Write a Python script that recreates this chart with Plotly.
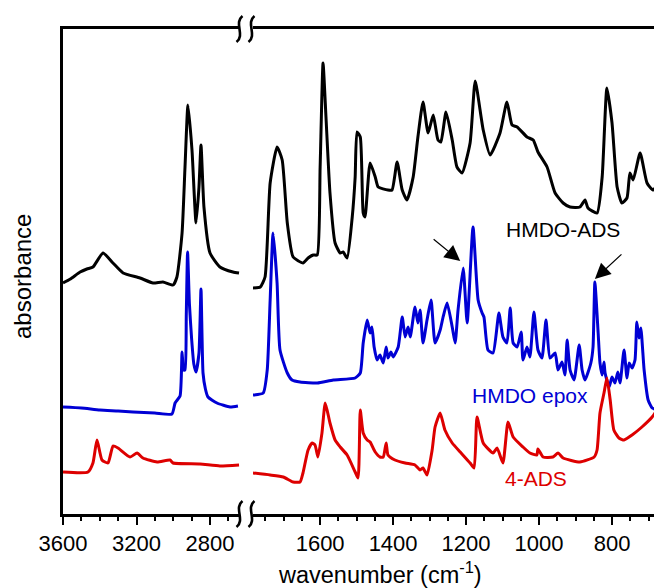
import plotly.graph_objects as go

# ---------------- data ----------------
# HMDO-ADS (black)
ads_wn_hi = [3600, 3560, 3507, 3470, 3437, 3382, 3328, 3273, 3181, 3110, 3056, 3001, 2980, 2952, 2936,
             2920, 2898, 2876, 2860, 2849, 2833, 2800, 2746, 2675, 2642]
ads_ab_hi = [2.31, 2.35, 2.42, 2.45, 2.47, 2.61, 2.51, 2.41, 2.36, 2.31, 2.32, 2.29, 2.37, 2.81, 3.47,
             4.09, 3.64, 2.91, 3.27, 3.69, 3.07, 2.61, 2.47, 2.42, 2.41]
ads_wn_lo = [1784, 1764, 1751, 1737, 1718, 1704, 1690, 1674, 1647, 1633, 1619, 1608, 1600, 1592, 1584,
             1573, 1559, 1545, 1537, 1526, 1512, 1504, 1499, 1490, 1482, 1477, 1463, 1449, 1441, 1414,
             1403, 1389, 1375, 1362, 1345, 1332, 1318, 1304, 1290, 1277, 1269, 1255, 1238, 1225, 1211,
             1189, 1175, 1153, 1134, 1107, 1088, 1074, 1060, 1033, 1016, 1003, 978, 956, 934, 915,
             888, 874, 866, 841, 827, 814, 800, 786, 773, 759, 751, 742, 723, 704, 688, 671, 663]
ads_ab_lo = [2.26, 2.27, 2.37, 3.31, 3.67, 3.54, 2.91, 2.57, 2.51, 2.56, 2.59, 2.59, 3.47, 4.51, 3.97,
             3.21, 2.71, 2.61, 2.62, 2.56, 2.97, 3.37, 3.82, 3.77, 3.01, 2.97, 3.51, 3.37, 3.27, 3.24,
             3.24, 3.52, 3.24, 3.14, 3.37, 3.77, 4.12, 3.81, 3.99, 3.74, 3.72, 4.02, 3.74, 3.47, 3.41,
             3.71, 4.33, 3.84, 3.59, 3.81, 4.12, 3.89, 3.87, 3.77, 3.74, 3.62, 3.47, 3.21, 3.11, 3.07,
             3.07, 3.14, 3.06, 3.01, 3.37, 4.26, 3.91, 3.27, 3.11, 3.16, 3.41, 3.34, 3.61, 3.31, 3.24,
             3.31, 3.37]

# HMDO epox (blue)
epox_wn_hi = [3600, 3500, 3399, 3300, 3219, 3100, 3007, 2990, 2963, 2952, 2944, 2936, 2929, 2922, 2912,
              2900, 2888, 2876, 2860, 2849, 2838, 2825, 2811, 2762, 2691, 2648]
epox_ab_hi = [1.07, 1.06, 1.04, 1.03, 1.02, 1.01, 1.00, 1.11, 1.18, 1.62, 1.44, 1.44, 2.00, 2.62, 2.10,
              1.75, 1.50, 1.42, 1.61, 2.25, 1.41, 1.25, 1.17, 1.11, 1.07, 1.08]
epox_wn_lo = [1784, 1756, 1745, 1737, 1729, 1718, 1710, 1690, 1677, 1655, 1608, 1564, 1504, 1490, 1482,
              1471, 1463, 1458, 1452, 1444, 1436, 1427, 1419, 1414, 1406, 1400, 1386, 1375, 1367, 1359,
              1353, 1340, 1332, 1326, 1318, 1307, 1296, 1285, 1271, 1263, 1252, 1238, 1230, 1222, 1208,
              1197, 1181, 1167, 1156, 1151, 1140, 1126, 1110, 1099, 1088, 1079, 1071, 1060, 1049, 1044,
              1033, 1025, 1014, 1003, 992, 981, 970, 956, 948, 937, 929, 923, 915, 904, 890,
              882, 874, 858, 852, 847, 838, 833, 827, 822, 819, 808, 800, 792, 784, 778,
              767, 759, 753, 745, 737, 732, 726, 721, 712, 701, 690, 677, 671, 663]
epox_ab_lo = [1.19, 1.21, 1.44, 2.14, 2.81, 2.31, 1.64, 1.41, 1.34, 1.32, 1.31, 1.34, 1.36, 1.41, 1.71,
              1.94, 1.81, 1.87, 1.67, 1.54, 1.59, 1.51, 1.67, 1.56, 1.62, 1.57, 1.67, 1.97, 1.77, 1.87,
              1.77, 2.07, 1.91, 2.04, 1.71, 1.94, 2.14, 1.71, 1.84, 1.97, 2.11, 1.87, 1.71, 2.04, 2.46,
              1.91, 2.87, 2.14, 2.01, 1.97, 1.64, 1.61, 2.01, 1.77, 1.71, 2.06, 1.71, 1.67, 1.82, 1.54,
              1.67, 1.57, 2.02, 1.64, 1.56, 1.94, 1.56, 1.61, 1.44, 1.52, 1.39, 1.74, 1.44, 1.34, 1.69,
              1.44, 1.34, 1.51, 1.67, 2.32, 1.81, 1.51, 1.39, 1.52, 1.41, 1.27, 1.37, 1.31, 1.42, 1.31,
              1.64, 1.36, 1.51, 1.46, 1.54, 1.92, 1.76, 1.86, 1.44, 1.14, 1.06, 1.04, 0.99, 1.04]

# 4-ADS (red)
four_wn_hi = [3600, 3464, 3437, 3415, 3388, 3355, 3328, 3301, 3235, 3197, 3165, 3088, 3018, 3001, 2854,
              2746, 2642]
four_ab_hi = [0.42, 0.42, 0.51, 0.74, 0.54, 0.51, 0.68, 0.66, 0.57, 0.61, 0.56, 0.52, 0.54, 0.51, 0.50,
              0.48, 0.49]
four_wn_lo = [1784, 1737, 1701, 1674, 1655, 1647, 1633, 1622, 1614, 1606, 1595, 1586, 1573, 1559, 1545,
              1526, 1504, 1496, 1490, 1482, 1471, 1463, 1449, 1436, 1427, 1419, 1414, 1395, 1367, 1340,
              1326, 1318, 1307, 1293, 1285, 1271, 1258, 1238, 1216, 1189, 1178, 1170, 1153, 1126, 1115,
              1099, 1085, 1071, 1044, 1025, 1006, 1003, 989, 962, 948, 934, 888, 849, 841, 833,
              822, 814, 805, 795, 781, 767, 745, 718, 690, 668, 663]
four_ab_lo = [0.41, 0.39, 0.37, 0.32, 0.32, 0.41, 0.64, 0.71, 0.69, 0.57, 0.81, 1.11, 0.91, 0.74, 0.67,
              0.59, 0.42, 0.36, 1.04, 0.81, 0.74, 0.72, 0.62, 0.57, 0.57, 0.71, 0.59, 0.54, 0.51, 0.49,
              0.44, 0.46, 0.39, 0.64, 0.87, 1.01, 0.84, 0.71, 0.62, 0.51, 0.46, 0.97, 0.71, 0.61, 0.66,
              0.51, 0.92, 0.77, 0.67, 0.61, 0.59, 0.65, 0.57, 0.57, 0.61, 0.56, 0.52, 0.57, 0.64, 1.01,
              1.21, 1.36, 1.14, 0.84, 0.76, 0.74, 0.79, 0.87, 0.97, 1.09, 1.11]

series = [
    ("HMDO-ADS", "#000000", ads_wn_hi, ads_ab_hi, ads_wn_lo, ads_ab_lo),
    ("HMDO epox", "#0000d4", epox_wn_hi, epox_ab_hi, epox_wn_lo, epox_ab_lo),
    ("4-ADS", "#dd0000", four_wn_hi, four_ab_hi, four_wn_lo, four_ab_lo),
]

# ---------------- figure ----------------
OFF = 8                       # page body margin in the browser
W, H = 662 - OFF, 588 - OFF
ML, MT, MB = 63 - OFF, 29 - OFF, 588 - 514
MR = 0
PW, PH = W - ML - MR, H - MT - MB


def px(x):  # window pixel x -> paper
    return (x - OFF - ML) / PW


def py(y):  # window pixel y -> paper
    return (MT + PH - (y - OFF)) / PH


FONT = "Arial, Liberation Sans, sans-serif"

fig = go.Figure()
for name, col, whi, ahi, wlo, alo in series:
    assert len(whi) == len(ahi) and len(wlo) == len(alo), name
    fig.add_trace(go.Scatter(x=whi, y=ahi, mode="lines",
                             line=dict(color=col, width=3, shape="spline", smoothing=0.5),
                             xaxis="x", yaxis="y", showlegend=False, name=name))
    fig.add_trace(go.Scatter(x=wlo, y=alo, mode="lines",
                             line=dict(color=col, width=3, shape="spline", smoothing=0.5),
                             xaxis="x2", yaxis="y", showlegend=False, name=name))

axis_common = dict(showline=True, linecolor="black", linewidth=3, mirror=True,
                   ticks="outside", ticklen=8, tickwidth=2, tickcolor="black",
                   showgrid=False, zeroline=False, automargin=False,
                   tickfont=dict(family=FONT, size=22, color="black"))

fig.update_layout(
    width=W, height=H,
    margin=dict(l=ML, r=MR, t=MT, b=MB, autoexpand=False),
    paper_bgcolor="white", plot_bgcolor="white",
    xaxis=dict(domain=[0, px(240)], range=[3600, 3600 - (240 - 63) / 0.18375],
               dtick=400, tick0=0, anchor="y",
               minor=dict(dtick=100, tick0=0, ticks="outside", ticklen=4, tickwidth=2, tickcolor="black"),
               **axis_common),
    xaxis2=dict(domain=[px(253), 1.0], range=[1784, 663], dtick=200, tick0=0, anchor="y",
                minor=dict(dtick=50, tick0=0, ticks="outside", ticklen=4, tickwidth=2, tickcolor="black"),
                **axis_common),
    yaxis=dict(range=[0, 4.85], showline=True, linecolor="black", linewidth=3, automargin=False,
               showticklabels=False, ticks="", showgrid=False, zeroline=False, anchor="x"),
)

# labels of the spectra
fig.add_annotation(x=934, y=2.85, xref="x2", yref="y", text="HMDO-ADS", showarrow=False,
                   font=dict(family=FONT, size=21, color="black"))
fig.add_annotation(x=1025, y=1.19, xref="x2", yref="y", text="HMDO epox", showarrow=False,
                   font=dict(family=FONT, size=21, color="#0000d4"))
fig.add_annotation(x=1008, y=0.36, xref="x2", yref="y", text="4-ADS", showarrow=False,
                   font=dict(family=FONT, size=21, color="#dd0000"))

# arrows
for (hx, hy, tx, ty) in [(1216, 2.53, 1293, 2.76), (847, 2.35, 770, 2.61)]:
    fig.add_annotation(x=hx, y=hy, ax=tx, ay=ty, xref="x2", yref="y", axref="x2", ayref="y",
                       text="", showarrow=True, arrowhead=2, arrowsize=2.6, arrowwidth=1.2,
                       arrowcolor="black")

# axis titles
fig.add_annotation(x=px(380), y=py(573), xref="paper", yref="paper",
                   xanchor="center", yanchor="middle",
                   text="wavenumber (cm<sup>-1</sup>)", showarrow=False,
                   font=dict(family=FONT, size=23.5, color="black"))
fig.add_annotation(x=px(22), y=py(277), xref="paper", yref="paper", text="absorbance",
                   xanchor="center", yanchor="middle",
                   textangle=-90, showarrow=False, font=dict(family=FONT, size=24, color="black"))

# axis-break marks
for cy in (29, 514):
    for cx in (239.5, 251.5):
        x0, x1 = px(cx + 3), px(cx - 3)
        y0, y1 = py(cy - 13), py(cy + 13)
        xa, xb = px(cx - 6), px(cx + 6)
        ya, yb = py(cy - 6), py(cy + 6)
        path = f"M {x0},{y0} C {xa},{ya} {xb},{yb} {x1},{y1}"
        fig.add_shape(type="path", path=path, xref="paper", yref="paper",
                      line=dict(color="black", width=2.6))

fig.write_html("out.html")
